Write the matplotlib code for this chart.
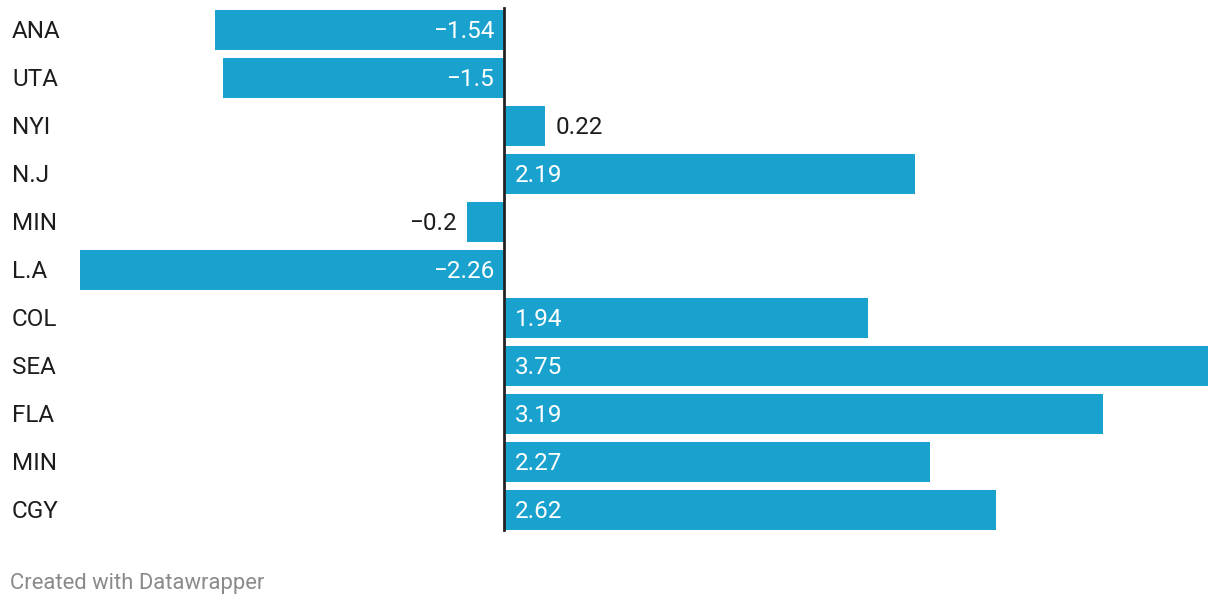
import matplotlib.pyplot as plt
from matplotlib.transforms import blended_transform_factory, offset_copy

teams = ['ANA', 'UTA', 'NYI', 'N.J', 'MIN', 'L.A', 'COL', 'SEA', 'FLA', 'MIN', 'CGY']
values = [-1.54, -1.5, 0.22, 2.19, -0.2, -2.26, 1.94, 3.75, 3.19, 2.27, 2.62]
labels = ['\u22121.54', '\u22121.5', '0.22', '2.19', '\u22120.2', '\u22122.26',
          '1.94', '3.75', '3.19', '2.27', '2.62']

bar_color = '#1aa2cf'
W, H = 1220, 606

plt.rcParams['font.family'] = ['Roboto', 'DejaVu Sans']

fig = plt.figure(figsize=(W / 100, H / 100), dpi=100)
# axes placed in pixels: x from 80 to 1208, rows from y=6 to y=534
ax = fig.add_axes([80 / W, (H - 534) / H, (1208 - 80) / W, 528 / H])
ax.set_xlim(min(values), max(values))
ax.set_ylim(len(teams) - 0.5, -0.5)
ax.axis('off')

ypos = list(range(len(teams)))
ax.barh(ypos, values, height=40 / 48, color=bar_color, linewidth=0)

# zero line
ax.axvline(0, ymin=(534 - 530) / 528, ymax=(534 - 8) / 528, color='#222222', lw=2, zorder=3)

# category labels at the left edge of the figure
tr_lab = offset_copy(blended_transform_factory(fig.transFigure, ax.transData),
                     fig=fig, x=0, y=-2, units='dots')
for y, t in zip(ypos, teams):
    ax.text(12 / W, y, t, transform=tr_lab, ha='left', va='center',
            fontsize=17.5, color='#1d1d1d')

# value labels, inside the bar when it is wide enough
for y, v, lab in zip(ypos, values, labels):
    inside = abs(v) > 0.5
    if v < 0:
        if inside:
            x, dx, ha, col = 0, -10, 'right', 'white'
        else:
            x, dx, ha, col = v, -10, 'right', '#1d1d1d'
    else:
        if inside:
            x, dx, ha, col = 0, 11, 'left', 'white'
        else:
            x, dx, ha, col = v, 10, 'left', '#1d1d1d'
    tr = offset_copy(ax.transData, fig=fig, x=dx, y=-2, units='dots')
    ax.text(x, y, lab, transform=tr, ha=ha, va='center', fontsize=17.5, color=col)

fig.text(10 / W, 1 - 583 / H, 'Created with Datawrapper', ha='left', va='center',
         fontsize=15.8, color='#8a8a8a')

fig.savefig('out.png', dpi=100)
